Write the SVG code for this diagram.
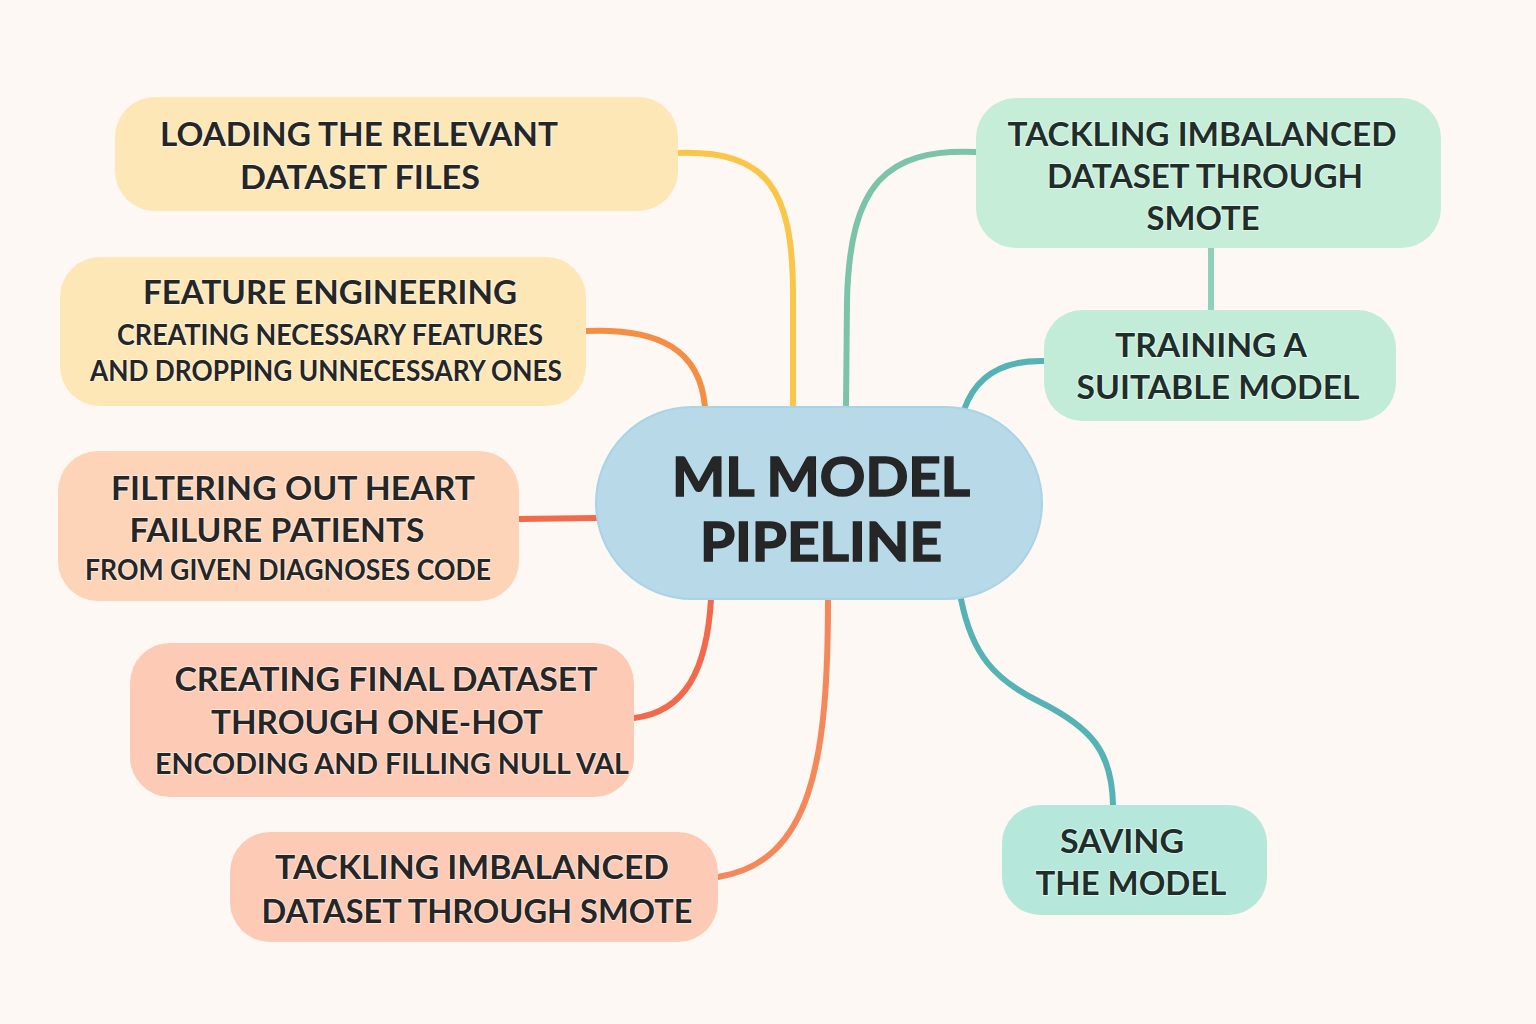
<svg xmlns="http://www.w3.org/2000/svg" width="1536" height="1024" viewBox="0 0 1536 1024">
<style>
.bg{fill:#FDF8F4}
.t{font-family:Lato,"Noto Sans","Liberation Sans",sans-serif;font-weight:700;fill:#262626;text-anchor:middle;stroke:#ffffff;stroke-opacity:0.55;stroke-width:2;paint-order:stroke}
.h{font-size:33px}
.s{font-size:28px}
.c{font-size:54px;stroke:#1f1f1f;stroke-opacity:1;stroke-width:1.5}
.g{fill:#1E2E2A}
.con{fill:none;stroke-width:6;stroke-linecap:round}
</style>
<rect class="bg" x="0" y="0" width="1536" height="1024"/>
<g id="connectors">
<path class="con" stroke="#F9C64A" d="M678,153 C768,150 792,190 793,290 L793,407"/>
<path class="con" stroke="#F48E45" d="M586,331 C660,328 700,350 705,407"/>
<path class="con" stroke="#7CC4A9" d="M976,152 C885,148 850,185 847,300 L846,407"/>
<path class="con" stroke="#8ED0B9" d="M1211,248 L1211,310"/>
<path class="con" stroke="#55B3B5" d="M1044,361 C1000,360 975,378 964,410"/>
<path class="con" stroke="#F26A4C" d="M519,519 L597,518"/>
<path class="con" stroke="#F26A4C" d="M711,599 C707,670 685,712 634,718"/>
<path class="con" stroke="#F5885A" d="M828,599 C828,760 812,862 718,877"/>
<path class="con" stroke="#55B3B5" d="M961,599 C972,655 995,680 1040,702 C1092,728 1112,752 1113,805"/>
</g>
<g id="node-loading">
<rect x="115" y="97" width="563" height="114" rx="40" fill="#FDE7B7"/>
<text class="t h" x="359" y="146" textLength="398" lengthAdjust="spacingAndGlyphs">LOADING THE RELEVANT</text>
<text class="t h" x="360" y="189" textLength="240" lengthAdjust="spacingAndGlyphs">DATASET FILES</text>
</g>
<g id="node-feature">
<rect x="60" y="257" width="526" height="149" rx="40" fill="#FDE7B7"/>
<text class="t h" x="330" y="304" textLength="374" lengthAdjust="spacingAndGlyphs">FEATURE ENGINEERING</text>
<text class="t s" x="330" y="345" textLength="426" lengthAdjust="spacingAndGlyphs">CREATING NECESSARY FEATURES</text>
<text class="t s" x="326" y="381" textLength="472" lengthAdjust="spacingAndGlyphs">AND DROPPING UNNECESSARY ONES</text>
</g>
<g id="node-filtering">
<rect x="58" y="451" width="461" height="150" rx="40" fill="#FDD4B8"/>
<text class="t h" x="293" y="500" textLength="364" lengthAdjust="spacingAndGlyphs">FILTERING OUT HEART</text>
<text class="t h" x="277" y="542" textLength="295" lengthAdjust="spacingAndGlyphs">FAILURE PATIENTS</text>
<text class="t s" x="288" y="580" textLength="406" lengthAdjust="spacingAndGlyphs">FROM GIVEN DIAGNOSES CODE</text>
</g>
<g id="node-final">
<rect x="130" y="643" width="504" height="154" rx="40" fill="#FCCAB5"/>
<text class="t h" x="386" y="691" textLength="423" lengthAdjust="spacingAndGlyphs">CREATING FINAL DATASET</text>
<text class="t h" x="377" y="734" textLength="332" lengthAdjust="spacingAndGlyphs">THROUGH ONE-HOT</text>
<text class="t s" x="392" y="774" textLength="474" lengthAdjust="spacingAndGlyphs">ENCODING AND FILLING NULL VAL</text>
</g>
<g id="node-smote-left">
<rect x="230" y="832" width="488" height="110" rx="40" fill="#FCCAB5"/>
<text class="t h" x="472" y="879" textLength="394" lengthAdjust="spacingAndGlyphs">TACKLING IMBALANCED</text>
<text class="t h" x="477" y="923" textLength="431" lengthAdjust="spacingAndGlyphs">DATASET THROUGH SMOTE</text>
</g>
<g id="node-center">
<rect x="596" y="407" width="446" height="192" rx="96" fill="#B7D9E8" stroke="#A9D3E6" stroke-width="2"/>
<text class="t c" x="821" y="496" textLength="298" lengthAdjust="spacingAndGlyphs">ML MODEL</text>
<text class="t c" x="821" y="561" textLength="242" lengthAdjust="spacingAndGlyphs">PIPELINE</text>
</g>
<g id="node-smote-right">
<rect x="976" y="98" width="465" height="150" rx="40" fill="#C5EDD7"/>
<text class="t h g" x="1202" y="146" textLength="389" lengthAdjust="spacingAndGlyphs">TACKLING IMBALANCED</text>
<text class="t h g" x="1205" y="188" textLength="316" lengthAdjust="spacingAndGlyphs">DATASET THROUGH</text>
<text class="t h g" x="1203" y="230" textLength="113" lengthAdjust="spacingAndGlyphs">SMOTE</text>
</g>
<g id="node-training">
<rect x="1044" y="310" width="352" height="111" rx="38" fill="#C2ECD8"/>
<text class="t h g" x="1211" y="357" textLength="192" lengthAdjust="spacingAndGlyphs">TRAINING A</text>
<text class="t h g" x="1218" y="399" textLength="283" lengthAdjust="spacingAndGlyphs">SUITABLE MODEL</text>
</g>
<g id="node-saving">
<rect x="1002" y="805" width="265" height="110" rx="38" fill="#B5E8DA"/>
<text class="t h g" x="1122" y="853" textLength="124" lengthAdjust="spacingAndGlyphs">SAVING</text>
<text class="t h g" x="1131" y="895" textLength="191" lengthAdjust="spacingAndGlyphs">THE MODEL</text>
</g>
</svg>
